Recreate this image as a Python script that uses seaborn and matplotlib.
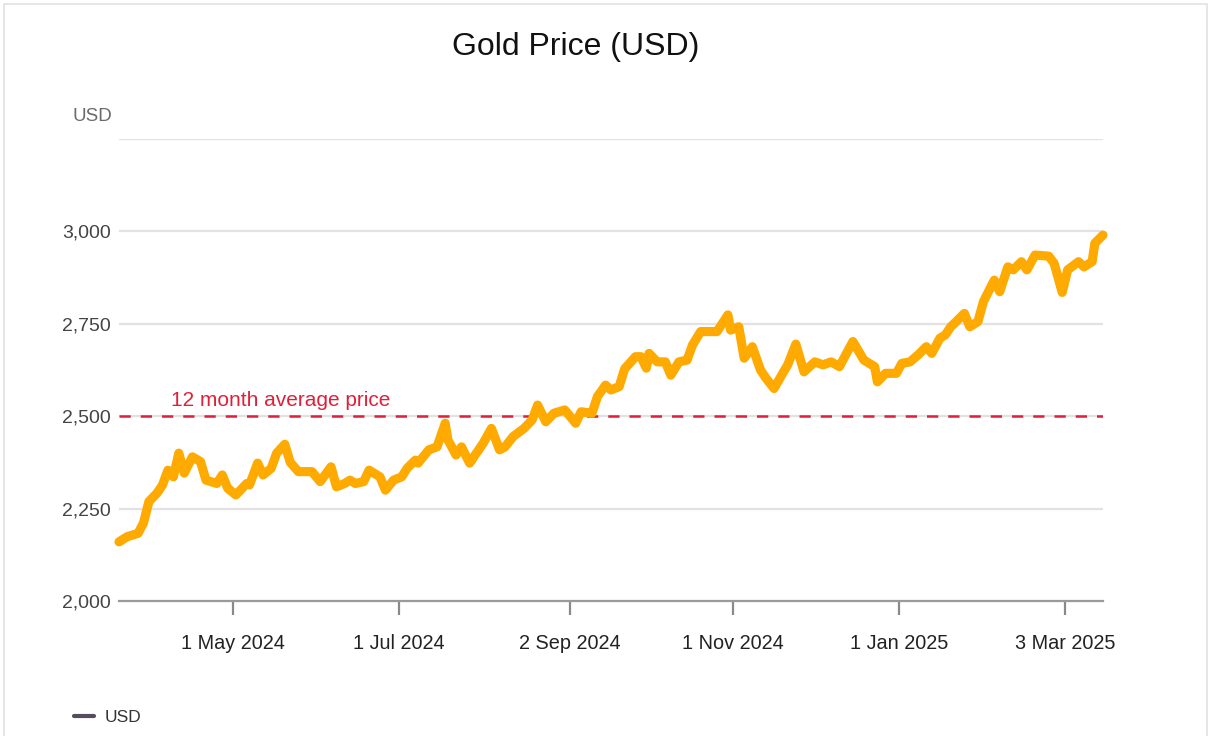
import matplotlib
matplotlib.use("Agg")
import matplotlib.pyplot as plt
import matplotlib.dates as mdates
from matplotlib.lines import Line2D
from matplotlib.patches import Rectangle
import seaborn as sns
import pandas as pd

# Gold spot price, USD per ounce
dates = [
    "2024-03-20", "2024-03-23", "2024-03-27", "2024-03-29", "2024-03-31", "2024-04-03",
    "2024-04-05", "2024-04-07", "2024-04-09", "2024-04-11", "2024-04-13", "2024-04-16",
    "2024-04-19", "2024-04-21", "2024-04-25", "2024-04-27", "2024-04-29", "2024-05-02",
    "2024-05-06", "2024-05-07", "2024-05-10", "2024-05-12", "2024-05-15", "2024-05-17",
    "2024-05-20", "2024-05-22", "2024-05-25", "2024-05-27", "2024-05-30", "2024-06-02",
    "2024-06-06", "2024-06-08", "2024-06-11", "2024-06-13", "2024-06-15", "2024-06-18",
    "2024-06-20", "2024-06-24", "2024-06-26", "2024-06-29", "2024-07-02", "2024-07-04",
    "2024-07-07", "2024-07-08", "2024-07-12", "2024-07-15", "2024-07-18", "2024-07-19",
    "2024-07-22", "2024-07-24", "2024-07-27", "2024-07-29", "2024-08-01", "2024-08-04",
    "2024-08-07", "2024-08-09", "2024-08-12", "2024-08-16", "2024-08-19", "2024-08-21",
    "2024-08-24", "2024-08-27", "2024-08-31", "2024-09-04", "2024-09-06", "2024-09-10",
    "2024-09-12", "2024-09-15", "2024-09-17", "2024-09-20", "2024-09-22", "2024-09-26",
    "2024-09-28", "2024-09-30", "2024-10-01", "2024-10-04", "2024-10-07", "2024-10-09",
    "2024-10-12", "2024-10-15", "2024-10-17", "2024-10-20", "2024-10-23", "2024-10-26",
    "2024-10-30", "2024-10-31", "2024-11-03", "2024-11-05", "2024-11-08", "2024-11-11",
    "2024-11-13", "2024-11-16", "2024-11-19", "2024-11-21", "2024-11-24", "2024-11-27",
    "2024-12-01", "2024-12-04", "2024-12-07", "2024-12-10", "2024-12-15", "2024-12-19",
    "2024-12-23", "2024-12-24", "2024-12-27", "2024-12-31", "2025-01-02", "2025-01-05",
    "2025-01-08", "2025-01-11", "2025-01-13", "2025-01-16", "2025-01-18", "2025-01-20",
    "2025-01-22", "2025-01-25", "2025-01-27", "2025-01-30", "2025-02-01", "2025-02-05",
    "2025-02-07", "2025-02-10", "2025-02-12", "2025-02-15", "2025-02-17", "2025-02-20",
    "2025-02-25", "2025-02-27", "2025-03-02", "2025-03-04", "2025-03-08", "2025-03-10",
    "2025-03-13", "2025-03-14", "2025-03-17",
]
prices = [
    2160, 2174, 2183, 2211, 2269, 2292,
    2314, 2354, 2336, 2400, 2346, 2390,
    2377, 2327, 2318, 2341, 2305, 2287,
    2318, 2314, 2373, 2341, 2359, 2400,
    2424, 2375, 2350, 2350, 2350, 2323,
    2363, 2309, 2318, 2327, 2318, 2323,
    2354, 2336, 2300, 2327, 2336, 2359,
    2381, 2373, 2409, 2417, 2481, 2436,
    2395, 2417, 2373, 2395, 2427, 2467,
    2409, 2417, 2445, 2467, 2490, 2530,
    2485, 2508, 2517, 2481, 2512, 2508,
    2553, 2584, 2571, 2580, 2628, 2661,
    2661, 2630, 2670, 2647, 2647, 2611,
    2647, 2652, 2693, 2729, 2729, 2729,
    2774, 2733, 2742, 2657, 2688, 2625,
    2603, 2575, 2614, 2639, 2695, 2620,
    2647, 2639, 2647, 2634, 2702, 2652,
    2634, 2593, 2616, 2616, 2643, 2647,
    2666, 2688, 2670, 2711, 2720, 2742,
    2756, 2778, 2742, 2756, 2810, 2868,
    2837, 2904, 2896, 2918, 2896, 2936,
    2933, 2914, 2835, 2896, 2918, 2904,
    2918, 2968, 2990,
]

average_price = 2500
average_label = "12 month average price"
y_ticks = [2000, 2250, 2500, 2750, 3000, 3250]
y_tick_labels = ["2,000", "2,250", "2,500", "2,750", "3,000", ""]
x_tick_dates = ["2024-05-01", "2024-07-01", "2024-09-02", "2024-11-01", "2025-01-01", "2025-03-03"]
title = "Gold Price (USD)"
unit = "USD"

df = pd.DataFrame({"date": pd.to_datetime(dates), "price": prices})

sns.set_theme(style="white")
plt.rcParams["font.family"] = ["Liberation Sans", "DejaVu Sans"]

fig = plt.figure(figsize=(12.11, 7.36), dpi=100)
ax = fig.add_axes([119 / 1211, 1 - 601 / 736, (1103 - 119) / 1211, (601 - 139) / 736])

# light card border
fig.patches.append(Rectangle((4 / 1211, -0.01), 1203 / 1211, 1 - 4 / 736 + 0.01,
                             transform=fig.transFigure, fill=False,
                             edgecolor="#e2e2e2", linewidth=1.2, zorder=0))

# horizontal grid
for v in y_ticks[1:]:
    ax.axhline(v, color="#e2e2e2", linewidth=1.6, zorder=0)

ax.axhline(average_price, color="#e0203a", linewidth=1.8,
           dashes=(4.5, 4), zorder=1)

sns.lineplot(data=df, x="date", y="price", ax=ax, color="#ffaa00",
             linewidth=6.6, solid_capstyle="round", solid_joinstyle="round",
             zorder=3, legend=False, clip_on=False)

ax.text(pd.Timestamp("2024-04-08"), average_price + 18, average_label,
        color="#e0203a", fontsize=15, ha="left", va="bottom")

ax.set_xlim(df["date"].iloc[0], df["date"].iloc[-1])
ax.set_ylim(2000, 3250)
ax.set_yticks(y_ticks)
ax.set_yticklabels(y_tick_labels)
ax.set_xticks(pd.to_datetime(x_tick_dates))
ax.xaxis.set_major_formatter(mdates.DateFormatter("%-d %b %Y"))
ax.set_xlabel("")
ax.set_ylabel("")

for side in ["top", "right", "left"]:
    ax.spines[side].set_visible(False)
ax.spines["bottom"].set_color("#9a9a9a")
ax.spines["bottom"].set_linewidth(1.6)
ax.spines["bottom"].set_zorder(2)

ax.tick_params(axis="x", length=10, width=1.6, color="#8a8a8a", pad=14,
               labelsize=14.3, labelcolor="#222222", direction="out", bottom=True)
ax.tick_params(axis="y", length=0, pad=6, labelsize=14, labelcolor="#444444")

ax.annotate(unit, xy=(0, 3250), xycoords=("axes fraction", "data"),
            xytext=(-5, 16), textcoords="offset points", ha="right", va="center",
            fontsize=13.5, color="#6a6a6a")

fig.text(576 / 1211, 1 - 47 / 736, title, ha="center", va="center",
         fontsize=23, color="#111111")

fig.legend(handles=[Line2D([], [], color="#544c60", linewidth=3)], labels=[unit],
           loc="center left", bbox_to_anchor=(58 / 1211, 1 - 717 / 736),
           frameon=False, fontsize=12.5, handlelength=1.2, handletextpad=0.6,
           labelcolor="#333333")

fig.savefig("out.png", dpi=100)
